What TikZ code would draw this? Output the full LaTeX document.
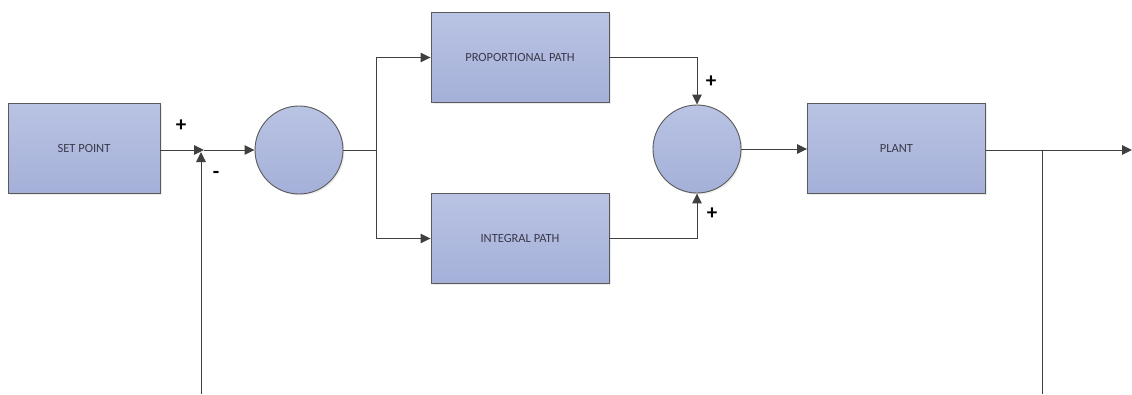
\documentclass[tikz,border=0pt]{standalone}
\usepackage{fontspec}
\setmainfont{Carlito}
\usetikzlibrary{arrows.meta,shadows}
\definecolor{boxtop}{HTML}{B9C3E3}
\definecolor{boxbot}{HTML}{A5B0D9}
\definecolor{edge}{HTML}{5A5A5A}
\definecolor{wire}{HTML}{404040}
\definecolor{txt}{HTML}{3A3A4A}
\tikzset{
  blk/.style={draw=edge, line width=0.9pt, top color=boxtop, bottom color=boxbot,
    minimum width=178pt, minimum height=90pt, inner sep=0pt,
    font=\fontsize{12.5}{13}\selectfont, text=txt,
    drop shadow={opacity=0.15, shadow xshift=1.5pt, shadow yshift=-1.5pt}},
  sumc/.style={circle, draw=edge, line width=0.9pt, top color=boxtop, bottom color=boxbot,
    minimum size=88pt, inner sep=0pt,
    drop shadow={opacity=0.15, shadow xshift=1.5pt, shadow yshift=-1.5pt}},
  wirel/.style={draw=wire, line width=1pt},
  arr/.style={wirel, -{Triangle[length=10pt,width=9.5pt]}},
  sgn/.style={font=\fontsize{21}{21}\selectfont\bfseries, text=black, inner sep=0pt}
}
\begin{document}
\begin{tikzpicture}[x=1pt,y=-1pt]
\useasboundingbox (0,0) rectangle (1132,394);
\node[blk, minimum width=152pt] (sp) at (84,148) {SET POINT};
\node[sumc] (c1) at (299,150) {};
\node[blk] (pp) at (520,57.5) {PROPORTIONAL PATH};
\node[blk] (ip) at (520,238.5) {INTEGRAL PATH};
\node[sumc] (c2) at (697,149) {};
\node[blk] (pl) at (896.5,148) {PLANT};

\coordinate (j1) at (204,150);
\coordinate (fb) at (201,394);
\coordinate (br) at (376,150);
\coordinate (out) at (1132,150);
\coordinate (tap) at (1042,150);
\coordinate (tapb) at (1042,394);

\draw[arr] (sp.east |- j1) -- (j1);
\draw[arr] (j1) -- (c1.west);
\draw[arr] (fb) -- (201,152);
\draw[wirel] (c1.east) -- (br);
\draw[arr] (br) |- (pp.west);
\draw[arr] (br) |- (ip.west);
\draw[arr] (pp.east) -| (c2.north);
\draw[arr] (ip.east) -| (c2.south);
\draw[arr] (c2.east) -- (pl.west |- c2.east);
\draw[arr] (pl.east |- out) -- (out);
\draw[wirel] (tap) -- (tapb);

\node[sgn] (p1) at (181,126) {+};
\node[sgn] (m1) at (216,175) {-};
\node[sgn] (p2) at (711,82) {+};
\node[sgn] (p3) at (712,214) {+};
\end{tikzpicture}
\end{document}
